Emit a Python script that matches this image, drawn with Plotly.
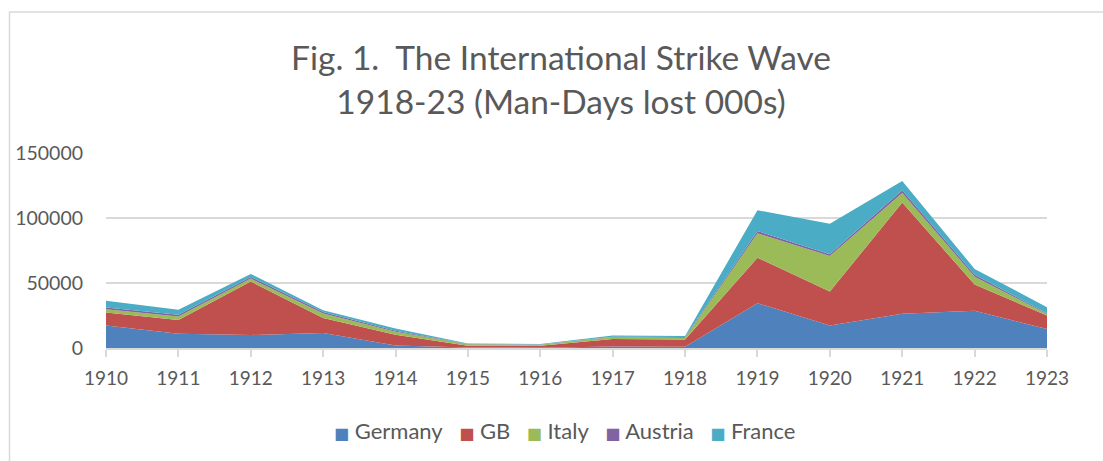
import plotly.graph_objects as go

years = [1910, 1911, 1912, 1913, 1914, 1915, 1916, 1917, 1918, 1919, 1920, 1921, 1922, 1923]
germany = [17300, 11000, 10000, 11500, 2000, 400, 250, 1200, 1000, 34500, 17300, 26300, 28600, 14600]
gb = [10000, 10500, 41100, 11500, 8200, 1400, 1500, 5700, 5600, 35000, 26100, 85700, 20200, 10400]
italy = [2600, 2700, 2300, 3500, 2300, 1000, 800, 1500, 1300, 18700, 27400, 7300, 6100, 1100]
austria = [1200, 1300, 1300, 1100, 800, 200, 200, 300, 500, 1800, 1300, 2100, 1500, 700]
france = [5200, 3900, 2300, 1500, 1700, 500, 300, 1000, 800, 16000, 23500, 7100, 4400, 4600]

series = [
    ("Germany", germany, "#4F81BD"),
    ("GB", gb, "#C0504D"),
    ("Italy", italy, "#9BBB59"),
    ("Austria", austria, "#8064A2"),
    ("France", france, "#4BACC6"),
]

FONT = "Lato"
GREY = "#595959"

fig = go.Figure()
for name, vals, col in series:
    fig.add_trace(go.Scatter(
        x=years, y=vals, name=name, mode="lines", stackgroup="one",
        line=dict(width=0, color=col), fillcolor=col, showlegend=False,
        hoverinfo="skip",
    ))

L, R, T, B = 106, 56, 153, 113
W, H = 1103, 461
pw, ph = W - L - R, H - T - B

# legend built as one centred line of text: coloured square glyph + series name
legend_text = "\u2002\u2005".join(
    f"<span style=\"font-family:'DejaVu Sans';font-size:16px;color:{col}\">\u25A0</span> {name}"
    for name, _, col in series
)

fig.update_layout(
    width=W, height=H,
    margin=dict(l=L, r=R, t=T, b=B, autoexpand=False),
    paper_bgcolor="white", plot_bgcolor="white",
    font=dict(family=FONT, color=GREY, size=19),
    showlegend=False,
    title=dict(
        text="Fig. 1.  The International Strike Wave<br>1918-23 (Man-Days lost 000s)",
        x=(561 - L) / pw, xref="paper", xanchor="center", y=1 - 70 / H, yanchor="top",
        font=dict(family=FONT, size=33.5, color=GREY),
    ),
    xaxis=dict(
        range=[1910, 1923], tickvals=years, showgrid=False, zeroline=False,
        showline=True, linecolor="#D9D9D9", linewidth=1.5,
        ticks="outside", ticklen=7, tickcolor="#D9D9D9", tickwidth=1.5,
        ticklabelstandoff=5, tickfont=dict(size=19, color=GREY),
    ),
    yaxis=dict(
        range=[0, 150000], dtick=50000, tickformat="d", showgrid=True,
        gridcolor="#D9D9D9", gridwidth=1.5, zeroline=False, showline=False,
        ticks="", ticklabelstandoff=22, tickfont=dict(size=19.5, color=GREY),
    ),
    annotations=[dict(
        text=legend_text, xref="paper", yref="paper",
        x=(564.5 - L) / pw, xanchor="center",
        y=-(430 - (H - B)) / ph, yanchor="middle",
        showarrow=False, font=dict(family=FONT, size=22, color=GREY),
    )],
    shapes=[dict(
        type="rect", xref="paper", yref="paper",
        x0=(9.5 - L) / pw, x1=(W + 20 - L) / pw,
        y0=-(H + 20 - (H - B)) / ph, y1=1 + (T - 12) / ph,
        line=dict(color="#D9D9D9", width=1.5), fillcolor="rgba(0,0,0,0)",
        layer="below",
    )],
)

fig.write_html(
    "out.html",
    config={"displayModeBar": False},
    post_script="document.body.style.margin='0';document.body.style.padding='0';document.body.style.overflow='hidden';",
)
